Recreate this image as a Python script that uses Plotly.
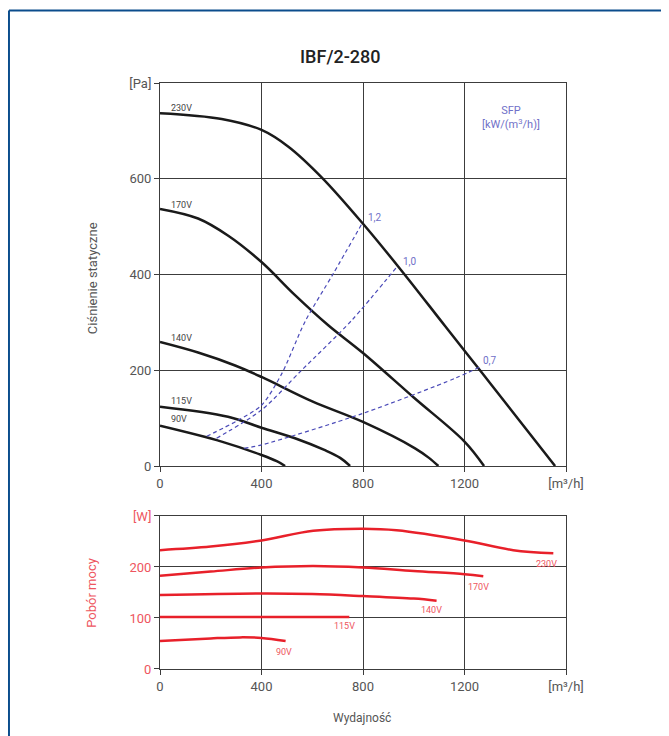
import plotly.graph_objects as go

# ---- Pressure curves (static pressure [Pa] vs flow [m3/h]) ----
p230_x = [0, 243, 400, 506, 637, 800, 952, 1121, 1261, 1400, 1557]
p230_y = [737, 725, 702, 667, 603, 506, 408, 294, 200, 106, 0]
p170_x = [0, 150, 269, 400, 530, 663, 800, 1000, 1200, 1277]
p170_y = [537, 517, 481, 426, 358, 294, 236, 143, 51, 0]
p140_x = [0, 150, 296, 400, 600, 800, 1005, 1060, 1097]
p140_y = [259, 237, 210, 186, 135, 92, 37, 17, 0]
p115_x = [0, 268, 400, 532, 650, 710, 749]
p115_y = [124, 103, 80, 58, 33, 17, 0]
p90_x = [0, 243, 400, 460, 493]
p90_y = [84, 51, 23, 10, 0]

# ---- SFP system lines ----
sfp12_x = [184, 309, 400, 480, 571, 682, 800]
sfp12_y = [62, 96, 127, 193, 301, 401, 510]
sfp10_x = [223, 400, 558, 755, 938]
sfp10_y = [58, 117, 200, 304, 419]
sfp07_x = [332, 400, 800, 1162, 1261]
sfp07_y = [37, 44, 110, 183, 207]

# ---- Power curves [W] ----
w230_x = [0, 200, 400, 604, 800, 932, 1200, 1392, 1550]
w230_y = [233, 240, 252, 271, 275, 272, 252, 233, 227]
w170_x = [0, 200, 400, 604, 800, 1000, 1200, 1274]
w170_y = [183, 191, 199, 202, 199, 192, 186, 182]
w140_x = [0, 400, 600, 800, 1000, 1090]
w140_y = [145, 148, 147, 143, 138, 134]
w115_x = [0, 400, 746]
w115_y = [102, 102, 102]
w90_x = [0, 200, 315, 400, 495]
w90_y = [55, 60, 62, 61, 55]

voltages = ["230V", "170V", "140V", "115V", "90V"]
sfp_labels = ["1,2", "1,0", "0,7"]

x_ticks = [0, 400, 800, 1200, 1600]
x_ticktext = ["0", "400", "800", "1200", "[m³/h]"]
yp_ticks = [0, 200, 400, 600, 800]
yp_ticktext = ["0", "200", "400", "600", "[Pa]"]
yw_ticks = [0, 100, 200, 300]
yw_ticktext = ["0", "100", "200", "[W]"]

FONT = "Roboto"
BLACK = "#1a1a1a"
RED = "#e8202a"
RED_TXT = "#ee5560"
BLUE = "#4a4ab8"
BLUE_TXT = "#7070c8"
GRID = "#3c3c3c"
GRAY_TXT = "#555555"

fig = go.Figure()

for xs, ys in [(p230_x, p230_y), (p170_x, p170_y), (p140_x, p140_y), (p115_x, p115_y), (p90_x, p90_y)]:
    fig.add_trace(go.Scatter(x=xs, y=ys, mode="lines", line=dict(color=BLACK, width=2.5, shape="spline", smoothing=1.0),
                             xaxis="x", yaxis="y", showlegend=False, hoverinfo="skip"))
for xs, ys in [(sfp12_x, sfp12_y), (sfp10_x, sfp10_y), (sfp07_x, sfp07_y)]:
    fig.add_trace(go.Scatter(x=xs, y=ys, mode="lines", line=dict(color=BLUE, width=1.2, dash="4px,3px", shape="spline", smoothing=0.8),
                             xaxis="x", yaxis="y", showlegend=False, hoverinfo="skip"))
for xs, ys in [(w230_x, w230_y), (w170_x, w170_y), (w140_x, w140_y), (w115_x, w115_y), (w90_x, w90_y)]:
    fig.add_trace(go.Scatter(x=xs, y=ys, mode="lines", line=dict(color=RED, width=2.5, shape="spline", smoothing=1.0),
                             xaxis="x2", yaxis="y2", showlegend=False, hoverinfo="skip"))

ann = []
# pressure curve labels
for lab, yv in zip(voltages, [748, 546, 267, 135, 98]):
    ann.append(dict(x=35, y=yv, xref="x", yref="y", text=lab, showarrow=False, xanchor="left", yanchor="middle",
                    font=dict(family=FONT, size=9, color="#444444")))
# SFP labels
for lab, xv, yv in zip(sfp_labels, [812, 950, 1265], [519, 427, 221]):
    ann.append(dict(x=xv, y=yv, xref="x", yref="y", text=lab, showarrow=False, xanchor="left", yanchor="middle",
                    font=dict(family=FONT, size=10, color=BLUE_TXT)))
ann.append(dict(x=1383, y=728, xref="x", yref="y", text="SFP<br>[kW/(m<sup>3</sup>/h)]", showarrow=False,
                xanchor="center", yanchor="middle", font=dict(family=FONT, size=11, color=BLUE_TXT)))
# power curve labels
for lab, xv, yv in zip(voltages, [1525, 1257, 1068, 729, 489], [206, 161, 116, 84, 33]):
    ann.append(dict(x=xv, y=yv, xref="x2", yref="y2", text=lab, showarrow=False, xanchor="center", yanchor="middle",
                    font=dict(family=FONT, size=9, color=RED_TXT)))
# titles
ann.append(dict(x=0.443, y=1.046, xref="paper", yref="paper", text="IBF/2-280", showarrow=False,
                xanchor="center", yanchor="middle", font=dict(family=FONT, size=18, color="#222222", weight=500)))
ann.append(dict(x=0.4975, y=-0.0836, xref="paper", yref="paper", text="Wydajność", showarrow=False,
                xanchor="center", yanchor="middle", font=dict(family=FONT, size=12, color=GRAY_TXT)))
ann.append(dict(x=-0.1675, y=0.667, xref="paper", yref="paper", text="Ciśnienie statyczne", showarrow=False,
                xanchor="center", yanchor="middle", textangle=-90, font=dict(family=FONT, size=13, color=GRAY_TXT)))
ann.append(dict(x=-0.1675, y=0.13, xref="paper", yref="paper", text="Pobór mocy", showarrow=False,
                xanchor="center", yanchor="middle", textangle=-90, font=dict(family=FONT, size=13, color=RED_TXT)))

axis_common = dict(showline=True, linecolor=GRID, linewidth=1, mirror=True, showgrid=True, gridcolor=GRID,
                   gridwidth=1, ticks="outside", ticklen=5, tickcolor=GRID, zeroline=False)

fig.update_layout(
    width=669, height=736,
    margin=dict(l=152, r=111, t=75, b=75),
    paper_bgcolor="white", plot_bgcolor="white",
    font=dict(family=FONT, size=13, color=GRAY_TXT),
    xaxis=dict(domain=[0, 1], anchor="y", range=[0, 1600], tickvals=x_ticks, ticktext=x_ticktext, **axis_common),
    yaxis=dict(domain=[0.3464, 1], anchor="x", range=[0, 800], tickvals=yp_ticks, ticktext=yp_ticktext, **axis_common),
    xaxis2=dict(domain=[0, 1], anchor="y2", range=[0, 1600], tickvals=x_ticks, ticktext=x_ticktext, **axis_common),
    yaxis2=dict(domain=[0, 0.2611], anchor="x2", range=[0, 300], tickvals=yw_ticks, ticktext=yw_ticktext,
                tickfont=dict(color=RED_TXT, size=13), **axis_common),
    annotations=ann,
    shapes=[
        dict(type="line", xref="paper", yref="paper", x0=-0.372, y0=1.1237, x1=1.3, y1=1.1237,
             line=dict(color="#0b4d8c", width=2)),
        dict(type="line", xref="paper", yref="paper", x0=-0.372, y0=1.1237, x1=-0.372, y1=-0.2,
             line=dict(color="#0b4d8c", width=2)),
    ],
)

fig.write_html("out.html")
